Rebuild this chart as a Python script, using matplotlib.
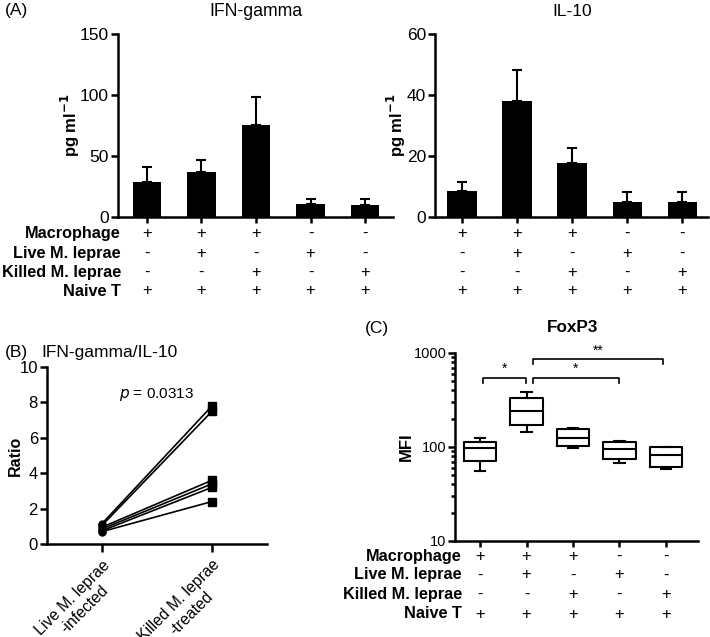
import numpy as np
import matplotlib
matplotlib.use('Agg')
import matplotlib.pyplot as plt

plt.rcParams['font.family'] = ['Liberation Sans', 'DejaVu Sans']

W, H = 710, 637

# Data
row_names = ['Macrophage', 'Live M. leprae', 'Killed M. leprae', 'Naive T']
conditions = [['+', '+', '+', '-', '-'],
              ['-', '+', '-', '+', '-'],
              ['-', '-', '+', '-', '+'],
              ['+', '+', '+', '+', '+']]

ifn_mean = [29, 36.6, 75.5, 10.5, 10]
ifn_err = [12, 10.5, 23, 4, 5]
il10_mean = [8.6, 38.0, 17.7, 5.0, 5.0]
il10_err = [3.0, 10.3, 5.0, 3.3, 3.1]

ratio_live = [1.15, 1.05, 0.95, 0.85, 0.75, 0.70]
ratio_killed = [7.8, 7.5, 3.6, 3.4, 3.2, 2.4]
ratio_labels = ['Live M. leprae\n-infected', 'Killed M. leprae\n-treated']

# FoxP3 box stats: whislo, q1, med, q3, whishi
fox_whislo = [55.6, 145, 97, 68, 58]
fox_q1 = [71, 170, 102.5, 74, 61]
fox_med = [97, 243, 124, 95, 82]
fox_q3 = [114, 330, 154, 114, 99]
fox_whishi = [124, 387, 158, 117, 100.7]

# significance brackets (x0, x1, label)
sig_pairs = [(0.06, 0.98, '*'), (1.13, 2.98, '*'), (1.13, 3.94, '**')]
sig_y = [546, 546, 863]
sig_drop = [483, 483, 764]

LW = 1.8
ROWFS = 11.7


def px_axes(x0, y0, x1, y1):
    return fig.add_axes([x0 / W, 1 - y1 / H, (x1 - x0) / W, (y1 - y0) / H])


def style(ax, fs):
    for s in ['top', 'right']:
        ax.spines[s].set_visible(False)
    for s in ['left', 'bottom']:
        ax.spines[s].set_linewidth(LW)
    ax.tick_params(width=LW, length=5, labelsize=fs)
    ax.tick_params(axis='y', pad=1.5)


def condition_rows(ax, y_px, name_x=None, yref=0):
    inv = fig.transFigure.inverted()
    for r, yp in enumerate(y_px):
        for x, sym in zip(xs, conditions[r]):
            xf = inv.transform(ax.transData.transform((x, yref)))[0]
            fig.text(xf, 1 - yp / H, sym, ha='center', va='center', fontsize=12)
        if name_x is not None:
            fig.text(name_x / W, 1 - yp / H, row_names[r], ha='right', va='center',
                     fontsize=ROWFS, fontweight='bold')


fig = plt.figure(figsize=(W / 100, H / 100), dpi=100)
xs = np.arange(5)

# Panel A - IFN-gamma
axA1 = px_axes(118, 34, 393, 217)
axA1.bar(xs, ifn_mean, width=0.52, color='black', zorder=2)
axA1.errorbar(xs, ifn_mean, yerr=[np.zeros(5), ifn_err], fmt='none',
              ecolor='black', elinewidth=1.5, capsize=3.6, capthick=1.5, zorder=1)
axA1.set_xlim(-0.53, 4.51)
axA1.set_ylim(0, 150)
axA1.set_yticks([0, 50, 100, 150])
axA1.set_xticks(xs)
axA1.set_xticklabels([])
style(axA1, 12.5)
axA1.tick_params(axis='x', length=4)
axA1.set_ylabel('pg ml$^{\\mathbf{-1}}$', fontsize=12, fontweight='bold')
axA1.yaxis.set_label_coords(-0.13, 0.5)
fig.text(256 / W, 1 - 11 / H, 'IFN-gamma', fontsize=12.7, ha='center', va='center')

# Panel A - IL-10
axA2 = px_axes(435, 34, 708, 217)
axA2.bar(xs, il10_mean, width=0.53, color='black', zorder=2)
axA2.errorbar(xs, il10_mean, yerr=[np.zeros(5), il10_err], fmt='none',
              ecolor='black', elinewidth=1.5, capsize=3.6, capthick=1.5, zorder=1)
axA2.set_xlim(-0.49, 4.47)
axA2.set_ylim(0, 60)
axA2.set_yticks([0, 20, 40, 60])
axA2.set_xticks(xs)
axA2.set_xticklabels([])
style(axA2, 12.5)
axA2.tick_params(axis='x', length=4)
axA2.set_ylabel('pg ml$^{\\mathbf{-1}}$', fontsize=12, fontweight='bold')
axA2.yaxis.set_label_coords(-0.10, 0.5)
fig.text(572 / W, 1 - 11 / H, 'IL-10', fontsize=12.5, ha='center', va='center')

a_rows = [233, 253, 272, 291]
condition_rows(axA1, a_rows, name_x=121)
condition_rows(axA2, a_rows)

fig.text(5 / W, 1 - 11 / H, '(A)', fontsize=12.5, va='center')

# Panel B - ratio
axB = px_axes(47, 367, 267, 544)
for a, b in zip(ratio_live, ratio_killed):
    axB.plot([0, 1], [a, b], color='black', lw=1.2, zorder=2)
axB.plot(np.zeros(len(ratio_live)), ratio_live, 'o', color='black', ms=5, zorder=3)
axB.plot(np.ones(len(ratio_killed)), ratio_killed, 's', color='black', ms=6, zorder=3)
axB.set_xlim(-0.5, 1.5)
axB.set_ylim(0, 10)
axB.set_yticks([0, 2, 4, 6, 8, 10])
axB.set_xticks([0, 1])
style(axB, 12)
axB.tick_params(axis='x', length=6)
axB.set_xticklabels(ratio_labels, rotation=45, ha='right', va='top',
                    rotation_mode='anchor', fontsize=11.3, multialignment='center')
axB.set_ylabel('Ratio', fontsize=11.5, fontweight='bold')
axB.yaxis.set_label_coords(-0.11, 0.5)
axB.text(0.5, 8.45, '$p$ = 0.0313', ha='center', va='center', fontsize=11)
fig.text(5 / W, 1 - 353 / H, '(B)', fontsize=12.5, va='center')
fig.text(110 / W, 1 - 353 / H, 'IFN-gamma/IL-10', fontsize=12.5, ha='center', va='center')

# Panel C - FoxP3
axC = px_axes(455, 353, 698, 541)
stats = [dict(whislo=a, q1=b, med=c, q3=d, whishi=e, fliers=[])
         for a, b, c, d, e in zip(fox_whislo, fox_q1, fox_med, fox_q3, fox_whishi)]
lp = dict(color='black', linewidth=1.5)
axC.bxp(stats, positions=xs, widths=0.7, capwidths=0.22, boxprops=lp, medianprops=lp,
        whiskerprops=lp, capprops=lp, showfliers=False)
axC.set_yscale('log')
axC.set_ylim(10, 1000)
axC.set_xlim(-0.54, 4.69)
axC.set_yticks([10, 100, 1000])
axC.set_yticklabels(['10', '100', '1000'])
axC.set_xticks(xs)
axC.set_xticklabels([])
style(axC, 10.5)
axC.tick_params(axis='y', which='major', pad=1)
axC.tick_params(axis='y', which='minor', width=LW, length=3)
axC.tick_params(axis='x', length=4)
axC.set_ylabel('MFI', fontsize=12, fontweight='bold')
axC.yaxis.set_label_coords(-0.17, 0.5)
for (x0, x1, lab), yb, yd in zip(sig_pairs, sig_y, sig_drop):
    axC.plot([x0, x0, x1, x1], [yd, yb, yb, yd], color='black', lw=1.2, clip_on=False)
    axC.text((x0 + x1) / 2, yb * 1.04, lab, ha='center', va='bottom', fontsize=10)

condition_rows(axC, [556, 575, 594, 614], name_x=462, yref=10)

fig.text(365 / W, 1 - 328 / H, '(C)', fontsize=12.5, va='center')
fig.text(573 / W, 1 - 328 / H, 'FoxP3', fontsize=12.3, fontweight='bold', ha='center', va='center')

fig.savefig('out.png', dpi=100)
